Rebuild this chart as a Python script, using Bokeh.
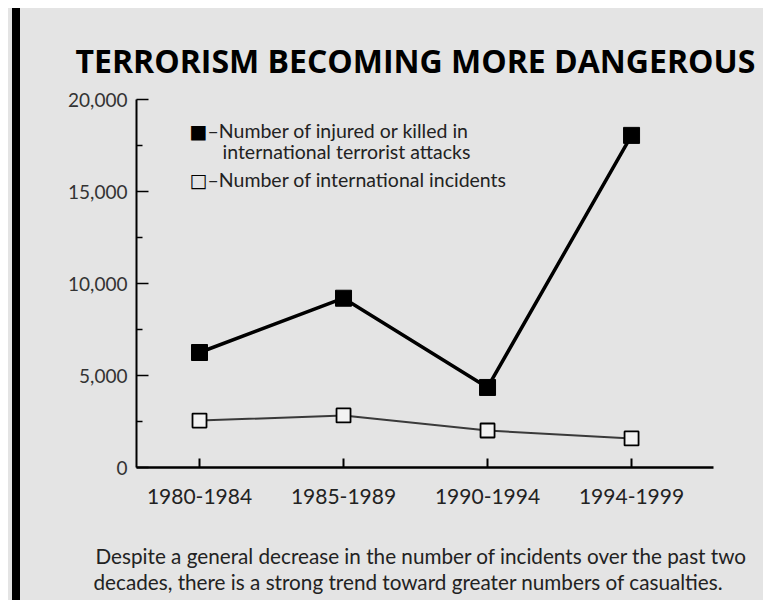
from bokeh.plotting import figure
from bokeh.layouts import row, column
from bokeh.models import (Range1d, FixedTicker, NumeralTickFormatter, Label,
                          Title, Div, ColumnDataSource)
from bokeh.embed import file_html
from bokeh.resources import INLINE

# ---- data ----
periods = ["1980-1984", "1985-1989", "1990-1994", "1994-1999"]
casualties = [6250, 9200, 4350, 18050]
incidents = [2550, 2830, 2010, 1580]
y_ticks = [0, 5000, 10000, 15000, 20000]

title_text = "TERRORISM BECOMING MORE DANGEROUS"
caption_1 = "Despite a general decrease in the number of incidents over the past two"
caption_2 = "decades, there is a strong trend toward greater numbers of casualties."
legend_1a = "\u2013Number of injured or killed in"
legend_1b = "international terrorist attacks"
legend_2 = "\u2013Number of international incidents"

xs = list(range(len(periods)))
src = ColumnDataSource(dict(x=xs, cas=casualties, inc=incidents))

BG = "#e4e4e4"
FONT = "Lato"
BAR_W = 12
W = 755 - BAR_W
H_TOTAL = 592
CAP_H = 70
H = H_TOTAL - CAP_H

p = figure(width=W, height=H, output_backend="svg", toolbar_location=None,
           x_range=Range1d(-0.4375, 3.569), y_range=Range1d(0, 20000),
           min_border_left=116, min_border_right=50, min_border_top=91,
           min_border_bottom=H - 459)
p.background_fill_color = BG
p.border_fill_color = BG
p.outline_line_color = None
p.grid.visible = False
p.frame_align = False

# axes
xa = p.xaxis[0]
xa.ticker = FixedTicker(ticks=xs)
xa.major_label_overrides = {i: s for i, s in enumerate(periods)}
xa.axis_line_width = 2.5
xa.axis_line_color = "black"
xa.major_tick_in = 9
xa.major_tick_out = 0
xa.major_tick_line_width = 2
xa.minor_tick_line_color = None
xa.major_label_standoff = 21
xa.major_label_text_font = FONT
xa.major_label_text_font_size = "21px"
xa.major_label_text_color = "#222222"

ya = p.yaxis[0]
ya.ticker = FixedTicker(ticks=y_ticks, minor_ticks=[2500, 7500, 12500, 17500])
ya.formatter = NumeralTickFormatter(format="0,0")
ya.axis_line_width = 2
ya.axis_line_color = "black"
ya.major_tick_in = 12
ya.major_tick_out = 0
ya.major_tick_line_width = 1.5
ya.minor_tick_in = 6
ya.minor_tick_out = 0
ya.minor_tick_line_width = 1.5
ya.major_label_standoff = 9
ya.major_label_text_font = FONT
ya.major_label_text_font_size = "19px"
ya.major_label_text_color = "#333333"

# series
p.line("x", "inc", source=src, line_color="#3a3a3a", line_width=2)
p.scatter("x", "inc", source=src, marker="square", size=14,
          fill_color="#f2f2f2", line_color="black", line_width=1.8)
p.line("x", "cas", source=src, line_color="black", line_width=3.5)
p.scatter("x", "cas", source=src, marker="square", size=16,
          fill_color="black", line_color="black")


def canvas_label(fig, x, y, text, font=FONT, size="19px", color="#222222",
                 align="left", units="canvas"):
    fig.add_layout(Label(x=x, y=y, x_units=units, y_units=units,
                         text=text, text_font=font, text_font_size=size,
                         text_color=color, text_baseline="middle",
                         text_align=align))


# legend (keys as text glyphs)
canvas_label(p, 178, 122, "\u25A0", font="DejaVu Sans", size="19px",
             color="black", align="center")
canvas_label(p, 178, 171, "\u25A1", font="DejaVu Sans", size="19px",
             color="black", align="center")
canvas_label(p, 187, 122, legend_1a, size="19.5px")
canvas_label(p, 202, 143, legend_1b, size="19.5px")
canvas_label(p, 187, 171, legend_2, size="19.5px")

# title
p.title = Title(text=title_text, text_font="Open Sans", text_font_style="bold",
                text_font_size="32px", text_color="black", align="left",
                offset=-61, standoff=36)

# caption strip below the chart
cap = figure(width=W, height=CAP_H, output_backend="svg", toolbar_location=None,
             x_range=Range1d(0, 1), y_range=Range1d(0, 1), min_border=0,
             x_axis_location=None, y_axis_location=None)
cap.background_fill_color = BG
cap.border_fill_color = BG
cap.outline_line_color = None
cap.grid.visible = False
cap.frame_align = False
canvas_label(cap, 75, CAP_H - 25, caption_1, size="20.7px", units="screen")
canvas_label(cap, 73, CAP_H - 51, caption_2, size="20.7px", units="screen")

# left black bar of the page
bar = Div(width=BAR_W, height=H_TOTAL, margin=0,
          styles={"background": f"linear-gradient(90deg, {BG} 0px 4px, black 4px {BAR_W}px)"})

layout = row(bar, column(p, cap, spacing=0, styles={"background": BG}),
             spacing=0, margin=(8, 8, 8, 8), styles={"background": BG})
open("out.html", "w").write(file_html(layout, INLINE))
